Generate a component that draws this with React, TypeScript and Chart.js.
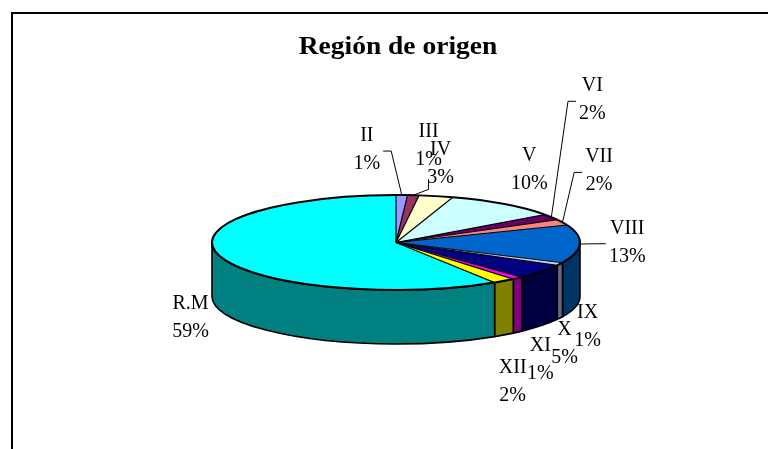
import React, { useEffect, useRef } from "react";
import { Chart, registerables } from "chart.js";

Chart.register(...registerables);

// ---- data ----
const regions = ["II", "III", "IV", "V", "VI", "VII", "VIII", "IX", "X", "XI", "XII", "R.M"];
const shares = [1, 1, 3, 10, 2, 2, 13, 1, 5, 1, 2, 59];
const percentLabels = shares.map((v) => `${v}%`);
const chartTitle = "Región de origen";

// ---- style ----
const sliceColors = [
  "#9999FF", "#993366", "#FFFFCC", "#CCFFFF", "#660066", "#FF8080",
  "#0066CC", "#CCCCFF", "#000080", "#FF00FF", "#FFFF00", "#00FFFF",
];
const W = 768;
const H = 449;
const PIE_RADIUS = 184;
const TILT = 47.5 / 184; // vertical squash of the top face
const DEPTH = 54; // height of the pie wall
const LABEL_FONT = '20px "Liberation Serif", "Times New Roman", serif';
const TITLE_FONT = 'bold 25px "Liberation Serif", "Times New Roman", serif';

type Nudge = { dx: number; dy: number; leader?: "h" | "v" };
const labelNudges: Record<string, Nudge> = {
  II: { dx: -36, dy: -12, leader: "h" },
  III: { dx: 12, dy: -16, leader: "v" },
  IV: { dx: -3, dy: 0 },
  V: { dx: 2, dy: -8 },
  VI: { dx: 12, dy: -100, leader: "h" },
  VII: { dx: 5, dy: -38, leader: "h" },
  VIII: { dx: 8, dy: -10, leader: "h" },
  IX: { dx: -3, dy: -9 },
  X: { dx: -4, dy: -5 },
  XII: { dx: -12, dy: 17 },
  "R.M": { dx: 9, dy: 0 },
};

function darken(hex: string, f = 0.5): string {
  const n = parseInt(hex.slice(1), 16);
  const r = Math.round(((n >> 16) & 255) * f);
  const g = Math.round(((n >> 8) & 255) * f);
  const b = Math.round((n & 255) * f);
  return `rgb(${r},${g},${b})`;
}

function arcProps(arc: any) {
  return arc.getProps(["x", "y", "startAngle", "endAngle", "outerRadius"], true);
}

const pie3d = {
  id: "pie3d",
  beforeDatasetsDraw(chart: any) {
    const ctx: CanvasRenderingContext2D = chart.ctx;
    const arcs = chart.getDatasetMeta(0).data;
    ctx.save();
    arcs.forEach((arc: any, i: number) => {
      const { x, y, startAngle, endAngle, outerRadius } = arcProps(arc);
      const ry = outerRadius * TILT;
      for (const off of [0, 2 * Math.PI, -2 * Math.PI]) {
        const s = Math.max(startAngle, off);
        const e = Math.min(endAngle, Math.PI + off);
        if (e - s > 1e-6) {
          ctx.beginPath();
          ctx.ellipse(x, y, outerRadius, ry, 0, s, e, false);
          ctx.lineTo(x + outerRadius * Math.cos(e), y + ry * Math.sin(e) + DEPTH);
          ctx.ellipse(x, y + DEPTH, outerRadius, ry, 0, e, s, true);
          ctx.closePath();
          ctx.fillStyle = darken(sliceColors[i]);
          ctx.fill();
          ctx.lineWidth = 1.6;
          ctx.lineJoin = "round";
          ctx.strokeStyle = "#000";
          ctx.stroke();
        }
      }
    });
    ctx.restore();
    const { x, y } = arcProps(arcs[0]);
    ctx.save();
    ctx.translate(x, y);
    ctx.scale(1, TILT);
    ctx.translate(-x, -y);
  },
  afterDatasetsDraw(chart: any) {
    const ctx: CanvasRenderingContext2D = chart.ctx;
    ctx.restore();
    const arcs = chart.getDatasetMeta(0).data;

    // top face outlines
    ctx.save();
    ctx.strokeStyle = "#000";
    ctx.lineJoin = "round";
    arcs.forEach((arc: any) => {
      const { x, y, startAngle, endAngle, outerRadius } = arcProps(arc);
      const ry = outerRadius * TILT;
      ctx.beginPath();
      ctx.moveTo(x, y);
      ctx.lineTo(x + outerRadius * Math.cos(startAngle), y + ry * Math.sin(startAngle));
      ctx.lineWidth = 1.2;
      ctx.stroke();
      ctx.beginPath();
      ctx.ellipse(x, y, outerRadius, ry, 0, startAngle, endAngle, false);
      ctx.lineWidth = 2;
      ctx.stroke();
    });
    ctx.restore();

    // labels
    ctx.save();
    ctx.font = LABEL_FONT;
    ctx.fillStyle = "#000";
    ctx.strokeStyle = "#000";
    ctx.lineWidth = 1;
    ctx.textAlign = "center";
    ctx.textBaseline = "alphabetic";
    arcs.forEach((arc: any, i: number) => {
      const { x, y, startAngle, endAngle, outerRadius } = arcProps(arc);
      const ry = outerRadius * TILT;
      const mid = (startAngle + endAngle) / 2;
      const ux = Math.cos(mid);
      const uy = Math.sin(mid);
      const name = regions[i];
      const pct = percentLabels[i];
      const w = Math.max(ctx.measureText(name).width, ctx.measureText(pct).width);
      const ax = x + (outerRadius + 21) * ux;
      const ay = y + (ry + 10) * uy + (uy > 0 ? DEPTH * Math.min(1, uy / 0.3) : 0);
      const nudge = labelNudges[name] || { dx: 0, dy: 0 };
      const lcx = ax + (ux * w) / 2 + nudge.dx;
      const lcy = ay + uy * 25 + nudge.dy;
      ctx.fillText(name, lcx, lcy - 7);
      ctx.fillText(pct, lcx, lcy + 21);

      if (nudge.leader) {
        const sx = x + outerRadius * ux;
        const sy = y + ry * uy;
        let kx: number, ky: number, ex: number, ey: number;
        if (nudge.leader === "h") {
          ey = lcy + 3;
          ky = ey;
          if (lcx > sx) {
            ex = lcx - w / 2 - 3;
            kx = ex - 8;
          } else {
            ex = lcx + w / 2 + 3;
            kx = ex + 8;
          }
        } else {
          ex = lcx;
          kx = lcx;
          ey = lcy + 35;
          ky = ey + 10;
        }
        ctx.beginPath();
        ctx.moveTo(sx, sy);
        ctx.lineTo(kx, ky);
        ctx.lineTo(ex, ey);
        ctx.stroke();
      }
    });
    ctx.restore();
  },
  afterDraw(chart: any) {
    const ctx: CanvasRenderingContext2D = chart.ctx;
    ctx.save();
    ctx.font = TITLE_FONT;
    ctx.fillStyle = "#000";
    ctx.textAlign = "center";
    ctx.textBaseline = "alphabetic";
    ctx.translate(398, 54);
    ctx.scale(1.1, 1);
    ctx.fillText(chartTitle, 0, 0);
    ctx.restore();
  },
};

export default function App() {
  const canvasRef = useRef<HTMLCanvasElement | null>(null);

  useEffect(() => {
    if (!canvasRef.current) return;
    const chart = new Chart(canvasRef.current, {
      type: "pie",
      data: {
        labels: regions,
        datasets: [
          {
            data: shares,
            backgroundColor: sliceColors,
            borderWidth: 0,
            radius: PIE_RADIUS,
            clip: false,
          } as any,
        ],
      },
      options: {
        responsive: false,
        animation: false,
        events: [],
        radius: PIE_RADIUS,
        layout: { padding: { left: 24, right: 0, top: 36, bottom: 0 } },
        plugins: {
          legend: { display: false },
          title: { display: false },
          tooltip: { enabled: false },
        },
      } as any,
      plugins: [pie3d as any],
    });
    return () => chart.destroy();
  }, []);

  return (
    <div
      style={{
        position: "absolute",
        left: 0,
        top: 0,
        width: W,
        height: H,
        overflow: "hidden",
        background: "#fff",
      }}
    >
      <div
        style={{
          position: "absolute",
          left: 11,
          top: 12,
          width: 900,
          height: 600,
          borderLeft: "2px solid #000",
          borderTop: "2px solid #000",
        }}
      />
      <canvas
        ref={canvasRef}
        width={W}
        height={H}
        style={{ position: "absolute", left: 0, top: 0, width: W, height: H }}
      />
    </div>
  );
}
